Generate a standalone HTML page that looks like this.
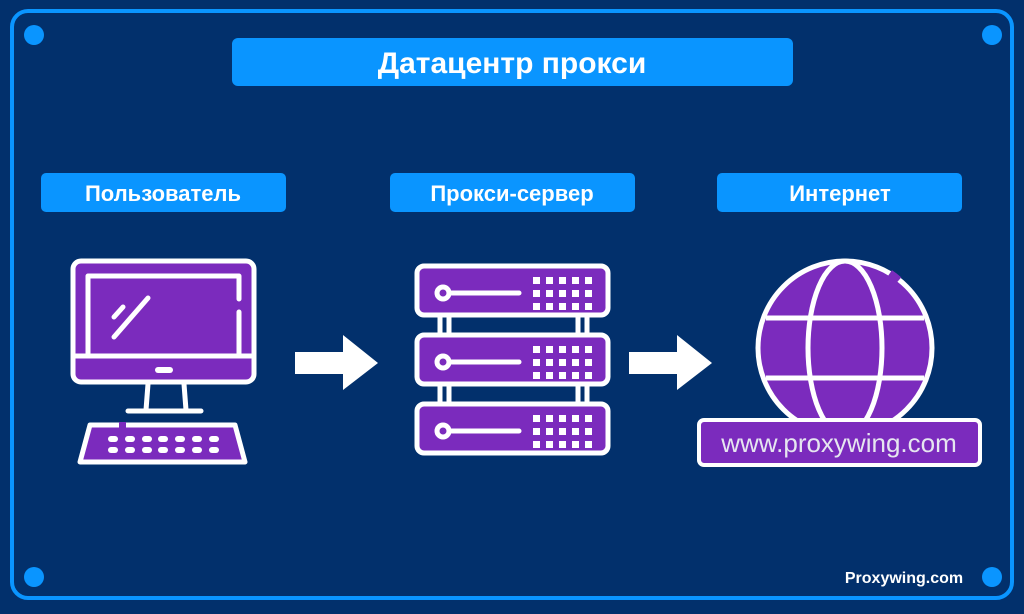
<!DOCTYPE html>
<html><head><meta charset="utf-8"><style>
html,body{margin:0;padding:0;background:#02306c;}
svg{display:block}
text{font-family:"Liberation Sans",sans-serif;}
</style></head><body>
<svg width="1024" height="614" viewBox="0 0 1024 614" xmlns="http://www.w3.org/2000/svg">
<rect width="1024" height="614" fill="#02306c"/>
<rect x="12" y="11" width="1000" height="587" rx="16" fill="none" stroke="#0a95ff" stroke-width="4"/>
<g fill="#0a95ff">
<circle cx="34" cy="35" r="10"/><circle cx="992" cy="35" r="10"/>
<circle cx="34" cy="577" r="10"/><circle cx="992" cy="577" r="10"/>
<rect x="232" y="38" width="561" height="48" rx="6"/>
<rect x="41" y="173" width="245" height="39" rx="5"/>
<rect x="390" y="173" width="245" height="39" rx="5"/>
<rect x="717" y="173" width="245" height="39" rx="5"/>
</g>
<g fill="#fff" font-weight="bold" text-anchor="middle">
<text x="512" y="73" font-size="30">Датацентр прокси</text>
<text x="163" y="201" font-size="22">Пользователь</text>
<text x="512" y="201" font-size="22">Прокси-сервер</text>
<text x="840" y="201" font-size="22">Интернет</text>
<text x="904" y="583" font-size="16">Proxywing.com</text>
</g>
<!-- computer -->
<g stroke="#fff" stroke-width="5" fill="#7b2bbd" stroke-linecap="round" stroke-linejoin="round">
<rect x="73" y="261" width="181" height="121" rx="8"/>
<path d="M239 299 V276 H88 V356 H239 V312" fill="none"/>
<line x1="75" y1="356" x2="252" y2="356"/>
<line x1="158" y1="370" x2="170" y2="370" stroke-width="6"/>
<path d="M148 384 L146 410 M184 384 L186 410" fill="none"/>
<line x1="128" y1="411" x2="201" y2="411"/>
<path d="M90 425 H235 L245 462 H80 Z"/>
<line x1="114" y1="317" x2="123" y2="307"/>
<line x1="114" y1="337" x2="148" y2="298"/>
</g>
<line x1="119" y1="425" x2="126" y2="425" stroke="#7b2bbd" stroke-width="6"/>
<g fill="#fff">
<g id="kr"><rect x="108" y="436" width="10" height="6" rx="3"/><rect x="125" y="436" width="10" height="6" rx="3"/><rect x="142" y="436" width="10" height="6" rx="3"/><rect x="158" y="436" width="10" height="6" rx="3"/><rect x="175" y="436" width="10" height="6" rx="3"/><rect x="192" y="436" width="10" height="6" rx="3"/><rect x="209" y="436" width="10" height="6" rx="3"/></g>
<use href="#kr" y="11"/>
</g>
<!-- arrows -->
<path d="M295 352 H343 V335 L378 363 L343 390 V374 H295 Z" fill="#fff"/>
<path d="M629 352 H677 V335 L712 363 L677 390 V374 H629 Z" fill="#fff"/>
<!-- server -->
<g stroke="#fff" stroke-width="5">
<line x1="440" y1="316" x2="440" y2="333"/><line x1="449" y1="316" x2="449" y2="333"/>
<line x1="578" y1="316" x2="578" y2="333"/><line x1="587" y1="316" x2="587" y2="333"/>
<line x1="440" y1="384" x2="440" y2="402"/><line x1="449" y1="384" x2="449" y2="402"/>
<line x1="578" y1="384" x2="578" y2="402"/><line x1="587" y1="384" x2="587" y2="402"/>
</g>
<g id="unit">
<rect x="417" y="266" width="191" height="49" rx="7" fill="#7b2bbd" stroke="#fff" stroke-width="5"/>
<circle cx="443" cy="293" r="6" fill="none" stroke="#fff" stroke-width="5"/>
<line x1="449" y1="293" x2="519" y2="293" stroke="#fff" stroke-width="5" stroke-linecap="round"/>
<g fill="#fff">
<rect x="533" y="277" width="7" height="7"/><rect x="546" y="277" width="7" height="7"/><rect x="559" y="277" width="7" height="7"/><rect x="572" y="277" width="7" height="7"/><rect x="585" y="277" width="7" height="7"/>
<rect x="533" y="290" width="7" height="7"/><rect x="546" y="290" width="7" height="7"/><rect x="559" y="290" width="7" height="7"/><rect x="572" y="290" width="7" height="7"/><rect x="585" y="290" width="7" height="7"/>
<rect x="533" y="303" width="7" height="7"/><rect x="546" y="303" width="7" height="7"/><rect x="559" y="303" width="7" height="7"/><rect x="572" y="303" width="7" height="7"/><rect x="585" y="303" width="7" height="7"/>
</g>
</g>
<use href="#unit" y="69"/>
<use href="#unit" y="138"/>
<!-- globe -->
<g stroke="#fff" stroke-width="5" fill="#7b2bbd">
<circle cx="845" cy="348" r="87"/>
<ellipse cx="845" cy="348" rx="37" ry="87" fill="none"/>
<line x1="766" y1="318" x2="924" y2="318"/>
<line x1="766" y1="378" x2="924" y2="378"/>
</g>
<path d="M890 273 A87 87 0 0 1 899 280" stroke="#7b2bbd" stroke-width="7" fill="none"/>
<rect x="699" y="420" width="281" height="45" rx="5" fill="#7b2bbd" stroke="#fff" stroke-width="4"/>
<text x="839" y="452" font-size="26" fill="#e6e6f0" text-anchor="middle">www.proxywing.com</text>
</svg>
</body></html>
